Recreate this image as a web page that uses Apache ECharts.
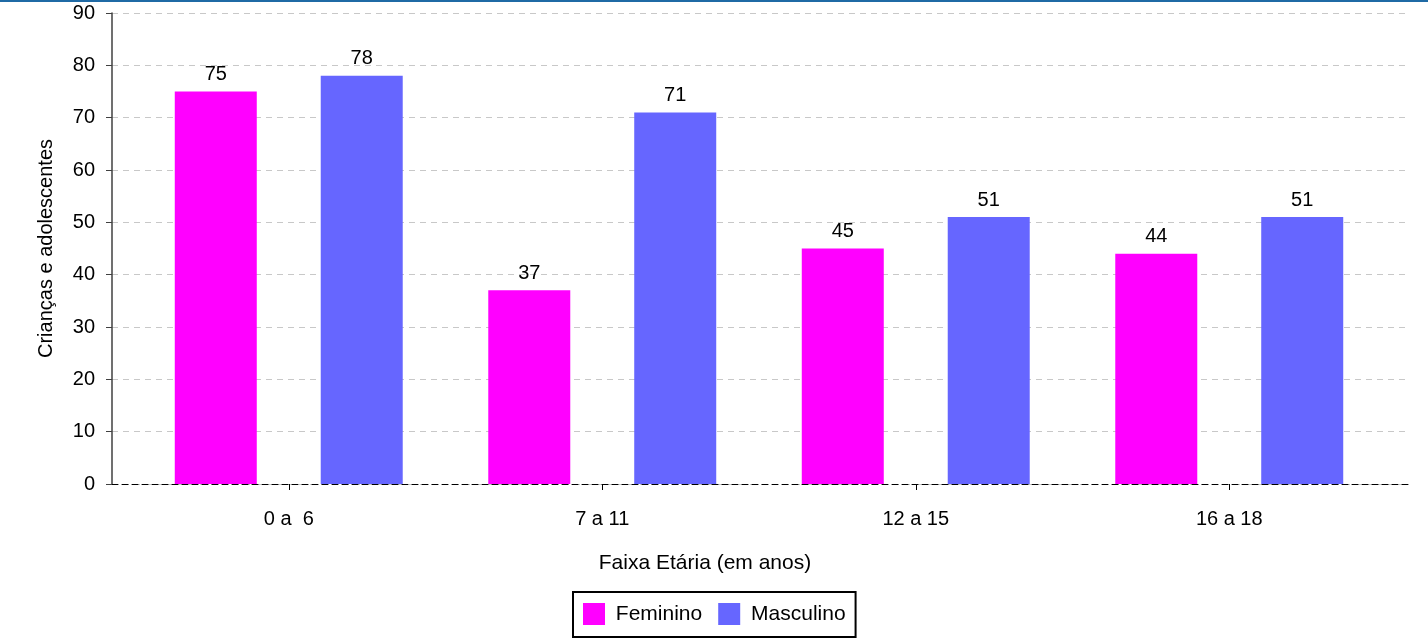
<!DOCTYPE html>
<html><head><meta charset="utf-8">
<script src="https://cdn.jsdelivr.net/npm/echarts@6/dist/echarts.min.js"></script>
<style>html,body{margin:0;padding:0;background:#fff}#c{width:1428px;height:642px}</style>
</head><body><div id="c"></div>
<script>
var categories = ['0 a  6', '7 a 11', '12 a 15', '16 a 18'];
var feminino = [75, 37, 45, 44];
var masculino = [78, 71, 51, 51];
var yTicks = [0, 10, 20, 30, 40, 50, 60, 70, 80, 90];

var FONT = 'Liberation Sans, Arial, sans-serif';
var chart = echarts.init(document.getElementById('c'));
chart.setOption({
  animation: false,
  textStyle: { fontFamily: FONT },
  graphic: [{ type: 'rect', shape: { x: 0, y: 0, width: 1428, height: 2 }, style: { fill: '#1f6aa5' } }],
  title: { text: 'Faixa Etária (em anos)', left: 700, textAlign: 'center', top: 548, textStyle: { fontFamily: FONT, fontSize: 21, fontWeight: 'normal', color: '#000' } },
  legend: {
    data: ['Feminino', 'Masculino'], left: 573, top: 592, orient: 'horizontal',
    borderColor: '#000', borderWidth: 2, padding: [11, 10, 12, 10],
    itemWidth: 22, itemHeight: 22, itemGap: 16, icon: 'rect',
    formatter: function (n) { return ' ' + n; },
    textStyle: { fontFamily: FONT, fontSize: 21, color: '#000' }
  },
  grid: [
    { left: 112, right: 20, top: 13, bottom: 158 },
    { left: 132, right: 42, top: 13, bottom: 158 }
  ],
  xAxis: [
    { gridIndex: 0, type: 'value', min: 0, max: 1, show: true, axisLabel: { show: false }, axisTick: { show: false }, splitLine: { show: false },
      axisLine: { show: true, lineStyle: { color: '#000', type: [6, 4], width: 1 } } },
    { gridIndex: 1, type: 'category', data: categories, boundaryGap: true,
      axisLine: { show: false },
      axisTick: { show: true, alignWithLabel: true, length: 6, lineStyle: { color: '#000' } },
      axisLabel: { color: '#000', fontSize: 20, fontFamily: FONT, margin: 25 } }
  ],
  yAxis: [
    { gridIndex: 0, type: 'value', min: 0, max: 90, interval: 10,
      name: 'Crianças e adolescentes', nameLocation: 'middle', nameGap: 56,
      nameTextStyle: { color: '#000', fontSize: 20, fontFamily: FONT },
      axisLine: { show: true, lineStyle: { color: '#404040', width: 1.5 } },
      axisTick: { show: true, length: 6, lineStyle: { color: '#404040' } },
      axisLabel: { color: '#000', fontSize: 20, fontFamily: FONT, margin: 17,
        formatter: function (v) { return yTicks.indexOf(v) >= 0 ? String(v) : ''; } },
      splitLine: { show: true, lineStyle: { color: '#c8c8c8', type: [6, 5], width: 1 } } },
    { gridIndex: 1, type: 'value', min: 0, max: 90, interval: 10, show: false, splitLine: { show: false } }
  ],
  series: [
    { name: 'Feminino', type: 'bar', xAxisIndex: 1, yAxisIndex: 1, data: feminino, barWidth: 82, barGap: '78%',
      itemStyle: { color: '#ff00ff' },
      label: { show: true, position: 'top', distance: 7, color: '#000', fontSize: 20, fontFamily: FONT } },
    { name: 'Masculino', type: 'bar', xAxisIndex: 1, yAxisIndex: 1, data: masculino, barWidth: 82, barGap: '78%',
      itemStyle: { color: '#6666ff' },
      label: { show: true, position: 'top', distance: 7, color: '#000', fontSize: 20, fontFamily: FONT } }
  ]
});
</script></body></html>
